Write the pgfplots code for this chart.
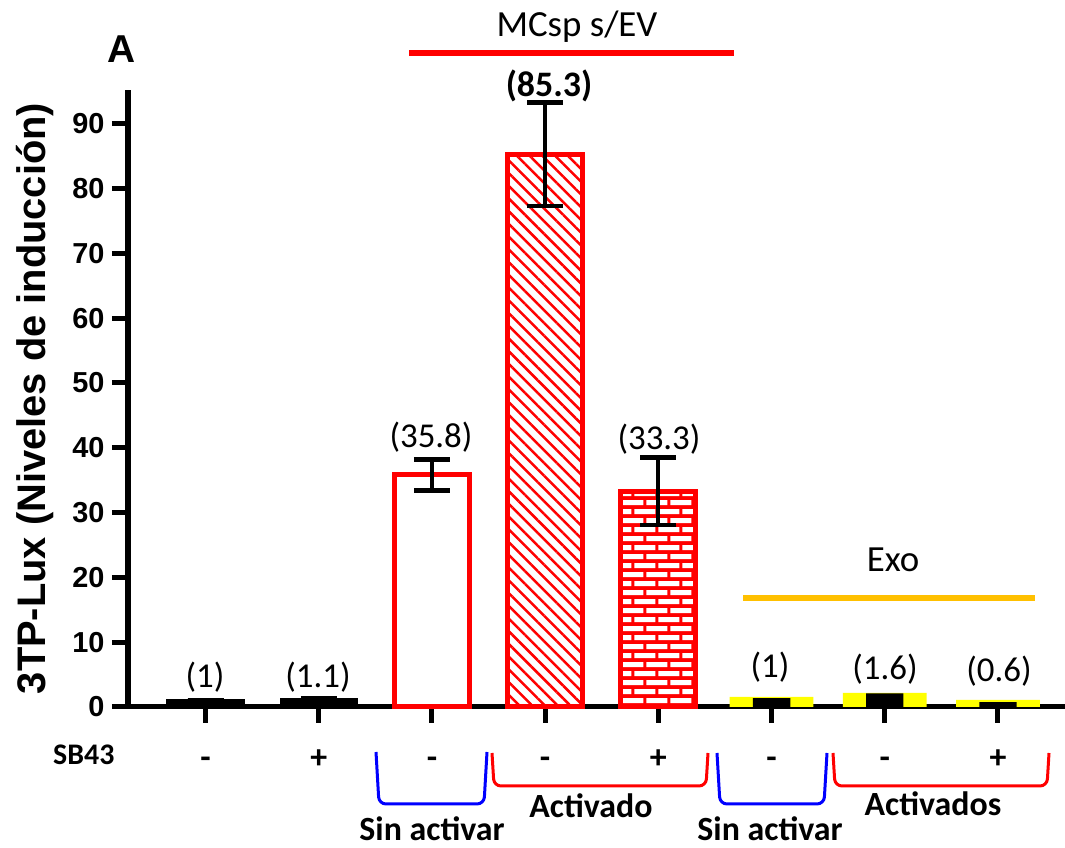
\documentclass[border=0pt]{standalone}
\usepackage{fontspec}
\usepackage{pgfplots}
\pgfplotsset{compat=1.18}
\usetikzlibrary{patterns,patterns.meta}
\setmainfont{Carlito}
\newfontfamily\arialf{Liberation Sans}
\newfontfamily\calf{Carlito}
\definecolor{exoorange}{RGB}{255,192,0}
\definecolor{pureyellow}{RGB}{255,255,0}
\pgfdeclarepatterninherentlycolored{redbricks}{\pgfpointorigin}{\pgfqpoint{24pt}{18pt}}{\pgfqpoint{24pt}{18pt}}{%
  \pgfsetfillcolor{red}%
  \pgfpathrectangle{\pgfpointorigin}{\pgfqpoint{24pt}{18pt}}\pgfusepath{fill}%
  \pgfsetfillcolor{white}%
  \pgfpathrectangle{\pgfqpoint{1.5pt}{2pt}}{\pgfqpoint{21pt}{5pt}}%
  \pgfpathrectangle{\pgfqpoint{13.5pt}{11pt}}{\pgfqpoint{10.5pt}{5pt}}%
  \pgfpathrectangle{\pgfqpoint{0pt}{11pt}}{\pgfqpoint{10.5pt}{5pt}}%
  \pgfusepath{fill}}
\begin{document}
\begin{tikzpicture}
\useasboundingbox (0bp,0bp) rectangle (1065bp,848bp);
\begin{axis}[
  at={(128bp,141bp)}, anchor=south west, scale only axis,
  width=937bp, height=617bp,
  xmin=-0.685, xmax=7.592, ymin=0, ymax=95.2,
  axis x line=bottom, axis y line=left,
  axis line style={-, line width=5bp, black},
  tick align=outside, major tick length=16bp,
  tick style={line width=5bp, black},
  xtick={0,1,2,3,4,5,6,7},
  xticklabels={\textbf{-},\textbf{+},\textbf{-},\textbf{-},\textbf{+},\textbf{-},\textbf{-},\textbf{+}},
  xticklabel style={font=\calf\bfseries\fontsize{34}{34}\selectfont, text height=0.7em, text depth=0.2em, yshift=-35bp},
  ytick={0,10,...,90},
  /pgf/number format/assume math mode=true,
  yticklabel style={font=\arialf\bfseries\fontsize{29}{29}\selectfont, xshift=-4bp},
  ylabel={3TP-Lux (Niveles de inducción)},
  ylabel style={font=\arialf\bfseries\fontsize{40}{40}\selectfont, at={(axis description cs:-0.0993,0.5)}, anchor=center},
  clip=false,
  error bars/y dir=both, error bars/y explicit,
  error bars/error mark=|,
  error bars/error bar style={line width=4bp, black},
  error bars/error mark options={line width=4.5bp, black, mark size=18bp},
]
% Control (black)
\addplot[ybar, bar shift=0pt, bar width=0.664, fill=black, draw=black, line width=3bp] coordinates {(0,1.0) +- (0,0)};
\addplot[ybar, bar shift=0pt, bar width=0.664, fill=black, draw=black, line width=3bp] coordinates {(1,1.1) +- (0,0.2)};
% MCsp s/EV sin activar
\addplot[ybar, bar shift=0pt, bar width=0.664, fill=white, draw=red, line width=5bp] coordinates {(2,35.8) +- (0,2.4)};
% MCsp s/EV activado
\addplot[ybar, bar shift=0pt, bar width=0.664, draw=red, line width=5bp, pattern={Lines[angle=-45,distance=9bp,line width=2.5bp]}, pattern color=red] coordinates {(3,85.3) +- (0,8.0)};
\addplot[ybar, bar shift=0pt, bar width=0.664, draw=red, line width=5bp, pattern=redbricks] coordinates {(4,33.3) +- (0,5.2)};
% Exo (yellow with black inner)
\addplot[ybar, bar shift=0pt, bar width=0.74, fill=pureyellow, draw=none, error bars/y dir=none] coordinates {(5,1.55) (6,2.16) (7,1.08)};
\addplot[ybar, bar shift=0pt, bar width=0.33, fill=black, draw=none, error bars/y dir=none] coordinates {(5,1.35) (6,2.1) (7,0.75)};
\end{axis}
% panel letter
\node[font=\arialf\bfseries\fontsize{39}{39}\selectfont] at (122bp,799bp) {A};
% group headers
\node[font=\calf\fontsize{37}{37}\selectfont, anchor=base] at (577bp,811bp) {MCsp s/EV};
\draw[red, line width=6bp] (409bp,795bp) -- (734bp,795bp);
\node[font=\calf\fontsize{37}{37}\selectfont, anchor=base] at (893bp,276bp) {Exo};
\draw[exoorange, line width=6bp] (743bp,250bp) -- (1035bp,250bp);
% value labels
\begin{scope}[every node/.style={font=\calf\fontsize{35}{35}\selectfont, anchor=center, inner sep=0pt}]
\node at (205bp,171bp) {(1)};
\node at (318bp,171bp) {(1.1)};
\node at (431bp,411bp) {(35.8)};
\node[font=\calf\bfseries\fontsize{36}{36}\selectfont] at (549bp,762bp) {(85.3)};
\node at (659bp,409bp) {(33.3)};
\node at (770bp,181bp) {(1)};
\node at (885bp,179bp) {(1.6)};
\node at (999bp,177bp) {(0.6)};
\end{scope}
% SB43
\node[font=\calf\bfseries\fontsize{30}{30}\selectfont, anchor=base west, inner sep=0pt] at (53bp,83bp) {SB43};
% brackets
\draw[blue, line width=3bp, rounded corners=7bp] (376bp,96bp) -- (379bp,44bp) -- (484bp,44bp) -- (487bp,96bp);
\draw[red, line width=3bp, rounded corners=7bp] (492bp,95bp) -- (494bp,62bp) -- (706bp,62bp) -- (708bp,95bp);
\draw[blue, line width=3bp, rounded corners=7bp] (717bp,95bp) -- (720bp,44bp) -- (824bp,44bp) -- (827bp,95bp);
\draw[red, line width=3bp, rounded corners=7bp] (833bp,95bp) -- (835bp,62bp) -- (1047bp,62bp) -- (1049bp,95bp);
% group captions
\begin{scope}[every node/.style={font=\calf\bfseries\fontsize{34}{34}\selectfont, anchor=base, inner sep=0pt}]
\node at (432bp,8bp) {Sin activar};
\node at (770bp,8bp) {Sin activar};
\node at (591bp,31bp) {Activado};
\node at (933bp,33bp) {Activados};
\end{scope}
\end{tikzpicture}
\end{document}
